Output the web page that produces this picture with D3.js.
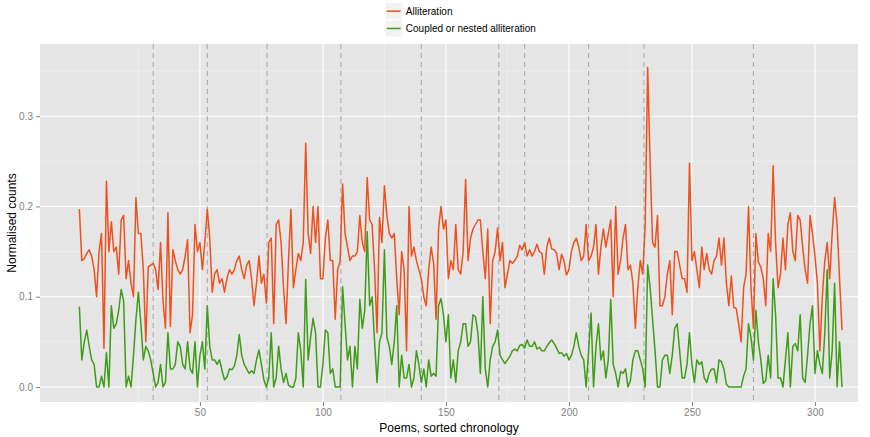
<!DOCTYPE html>
<html>
<head>
<meta charset="utf-8">
<script src="https://cdn.jsdelivr.net/npm/d3@7"></script>
<style>
  html, body { margin: 0; padding: 0; background: #ffffff; }
  svg { display: block; font-family: "Liberation Sans", Arial, sans-serif; }
</style>
</head>
<body>
<svg id="chart" width="870" height="437"></svg>
<script>
// Normalised alliteration counts per poem, poems in chronological order
const alliteration = [
  0.197,0.140,0.142,0.148,0.152,0.145,0.130,0.100,0.150,0.170,
  0.043,0.228,0.150,0.183,0.150,0.155,0.125,0.185,0.190,0.120,
  0.140,0.115,0.100,0.210,0.170,0.170,0.130,0.050,0.133,0.135,
  0.137,0.130,0.108,0.160,0.095,0.065,0.193,0.067,0.152,0.140,
  0.130,0.125,0.130,0.145,0.163,0.060,0.080,0.180,0.150,0.160,
  0.130,0.160,0.197,0.165,0.105,0.125,0.130,0.115,0.120,0.105,
  0.120,0.130,0.125,0.130,0.140,0.145,0.130,0.120,0.135,0.140,
  0.120,0.090,0.115,0.145,0.115,0.125,0.093,0.160,0.165,0.070,
  0.180,0.185,0.160,0.110,0.070,0.140,0.197,0.110,0.130,0.148,
  0.140,0.160,0.270,0.170,0.148,0.200,0.160,0.200,0.120,0.120,
  0.165,0.185,0.140,0.140,0.075,0.130,0.140,0.225,0.170,0.155,
  0.140,0.145,0.145,0.150,0.190,0.160,0.150,0.232,0.185,0.180,
  0.130,0.060,0.188,0.160,0.223,0.190,0.170,0.165,0.170,0.120,
  0.080,0.150,0.130,0.040,0.200,0.145,0.155,0.140,0.130,0.120,
  0.100,0.090,0.130,0.155,0.137,0.075,0.175,0.200,0.175,0.185,
  0.120,0.140,0.130,0.180,0.130,0.125,0.150,0.230,0.140,0.165,
  0.175,0.180,0.185,0.185,0.150,0.120,0.175,0.070,0.140,0.150,
  0.176,0.140,0.160,0.110,0.125,0.140,0.137,0.140,0.145,0.157,
  0.152,0.160,0.145,0.152,0.145,0.150,0.158,0.150,0.148,0.125,
  0.155,0.165,0.153,0.152,0.148,0.130,0.147,0.140,0.124,0.130,
  0.150,0.160,0.165,0.155,0.140,0.145,0.180,0.140,0.145,0.155,
  0.180,0.125,0.155,0.175,0.155,0.170,0.185,0.100,0.200,0.125,
  0.140,0.165,0.180,0.130,0.135,0.115,0.065,0.110,0.140,0.125,
  0.180,0.354,0.250,0.160,0.155,0.190,0.090,0.090,0.100,0.125,
  0.140,0.080,0.150,0.150,0.135,0.120,0.120,0.105,0.248,0.140,
  0.150,0.130,0.110,0.155,0.130,0.148,0.130,0.125,0.140,0.145,
  0.165,0.135,0.165,0.115,0.090,0.123,0.088,0.087,0.070,0.050,
  0.110,0.125,0.200,0.110,0.065,0.170,0.138,0.133,0.120,0.090,
  0.170,0.150,0.245,0.160,0.110,0.125,0.165,0.130,0.180,0.193,
  0.150,0.140,0.190,0.185,0.155,0.130,0.115,0.190,0.170,0.145,
  0.115,0.040,0.100,0.140,0.160,0.120,0.170,0.210,0.180,0.120,0.063
];

// Normalised counts of coupled or nested alliteration per poem
const coupled = [
  0.089,0.030,0.050,0.063,0.045,0.030,0.025,0.000,0.000,0.012,
  0.000,0.038,0.000,0.090,0.065,0.070,0.085,0.108,0.095,0.000,
  0.012,0.000,0.035,0.075,0.105,0.070,0.030,0.045,0.040,0.030,
  0.015,0.000,0.005,0.025,0.000,0.005,0.060,0.020,0.020,0.025,
  0.050,0.045,0.025,0.020,0.050,0.020,0.015,0.050,0.000,0.035,
  0.050,0.020,0.090,0.045,0.030,0.030,0.025,0.030,0.018,0.008,
  0.011,0.020,0.019,0.023,0.035,0.058,0.035,0.025,0.020,0.015,
  0.018,0.015,0.030,0.041,0.025,0.008,0.000,0.010,0.060,0.000,
  0.010,0.045,0.020,0.005,0.015,0.002,0.000,0.000,0.010,0.060,
  0.040,0.000,0.119,0.030,0.055,0.076,0.060,0.000,0.000,0.025,
  0.063,0.060,0.015,0.020,0.000,0.000,0.000,0.111,0.070,0.030,
  0.045,0.000,0.045,0.020,0.097,0.065,0.085,0.172,0.090,0.100,
  0.050,0.005,0.050,0.060,0.152,0.055,0.045,0.025,0.050,0.090,
  0.000,0.035,0.010,0.010,0.025,0.000,0.010,0.040,0.025,0.005,
  0.020,0.000,0.030,0.012,0.015,0.012,0.090,0.098,0.080,0.050,
  0.080,0.010,0.030,0.005,0.040,0.050,0.070,0.070,0.045,0.050,
  0.080,0.078,0.060,0.015,0.100,0.020,0.000,0.030,0.045,0.050,
  0.063,0.035,0.030,0.026,0.030,0.034,0.040,0.042,0.040,0.046,
  0.047,0.043,0.052,0.045,0.045,0.050,0.042,0.044,0.040,0.040,
  0.045,0.049,0.052,0.048,0.043,0.037,0.038,0.034,0.037,0.030,
  0.035,0.045,0.060,0.045,0.035,0.030,0.000,0.040,0.082,0.000,
  0.045,0.070,0.030,0.040,0.010,0.030,0.097,0.025,0.015,0.000,
  0.017,0.015,0.020,0.000,0.007,0.030,0.040,0.040,0.030,0.020,
  0.000,0.135,0.110,0.075,0.040,0.000,0.000,0.030,0.035,0.035,
  0.015,0.035,0.065,0.070,0.040,0.010,0.010,0.025,0.060,0.025,
  0.005,0.030,0.025,0.028,0.010,0.005,0.015,0.020,0.020,0.005,
  0.030,0.028,0.020,0.003,0.000,0.000,0.000,0.000,0.000,0.000,
  0.012,0.020,0.070,0.055,0.030,0.085,0.050,0.030,0.004,0.007,
  0.035,0.010,0.120,0.080,0.010,0.010,0.000,0.030,0.060,0.000,
  0.045,0.048,0.040,0.080,0.010,0.005,0.035,0.070,0.090,0.015,
  0.040,0.025,0.015,0.060,0.130,0.010,0.040,0.115,0.000,0.050,0.000
];

// Poem numbers (1-based position in the chronology)
const poems = d3.range(1, alliteration.length + 1);

// Period boundaries marked with dashed rules
const periodBreaks = [31, 53, 77.3, 107.3, 140, 171.5, 182, 208, 230.5, 275];

// Axis ticks
const xTicks = [50, 100, 150, 200, 250, 300];
const xMinorTicks = [25, 75, 125, 175, 225, 275];
const yTicks = [0, 0.1, 0.2, 0.3];
const yMinorTicks = [0.05, 0.15, 0.25, 0.35];

const seriesNames = ["Alliteration", "Coupled or nested alliteration"];
const seriesColors = ["#F0501E", "#3F9C17"];

const svg = d3.select("#chart");
const W = 870, H = 437;
const panel = { left: 40, right: 858, top: 44, bottom: 402 };

svg.append("rect").attr("width", W).attr("height", H).attr("fill", "#ffffff");

const x = d3.scaleLinear().domain([-15, 317.5]).range([panel.left, panel.right]);
const y = d3.scaleLinear().domain([-0.01667, 0.38]).range([panel.bottom, panel.top]);

// Panel background
svg.append("rect")
  .attr("x", panel.left).attr("y", panel.top)
  .attr("width", panel.right - panel.left)
  .attr("height", panel.bottom - panel.top)
  .attr("fill", "#E5E5E5");

const grid = svg.append("g");
// Minor grid
grid.selectAll(".xminor").data(xMinorTicks).join("line")
  .attr("x1", d => x(d)).attr("x2", d => x(d))
  .attr("y1", panel.top).attr("y2", panel.bottom)
  .attr("stroke", "#F2F2F2").attr("stroke-width", 0.6);
grid.selectAll(".yminor").data(yMinorTicks.filter(v => y(v) > panel.top)).join("line")
  .attr("x1", panel.left).attr("x2", panel.right)
  .attr("y1", d => y(d)).attr("y2", d => y(d))
  .attr("stroke", "#F2F2F2").attr("stroke-width", 0.6);
// Major grid
grid.selectAll(".xmajor").data(xTicks).join("line")
  .attr("x1", d => x(d)).attr("x2", d => x(d))
  .attr("y1", panel.top).attr("y2", panel.bottom)
  .attr("stroke", "#FFFFFF").attr("stroke-width", 1.1);
grid.selectAll(".ymajor").data(yTicks).join("line")
  .attr("x1", panel.left).attr("x2", panel.right)
  .attr("y1", d => y(d)).attr("y2", d => y(d))
  .attr("stroke", "#FFFFFF").attr("stroke-width", 1.1);

// Dashed period boundaries
svg.append("g").selectAll("line").data(periodBreaks).join("line")
  .attr("x1", d => x(d)).attr("x2", d => x(d))
  .attr("y1", panel.top).attr("y2", panel.bottom)
  .attr("stroke", "#A6A6A6").attr("stroke-width", 1)
  .attr("stroke-dasharray", "5,4");

// Series lines
const line = d3.line().x((d, i) => x(poems[i])).y(d => y(d));
[alliteration, coupled].forEach((vals, k) => {
  svg.append("path")
    .datum(vals)
    .attr("d", line)
    .attr("fill", "none")
    .attr("stroke", seriesColors[k])
    .attr("stroke-width", 1.5)
    .attr("stroke-linejoin", "round");
});

// Axes
const xAxis = d3.axisBottom(x).tickValues(xTicks).tickSize(4).tickPadding(3).tickFormat(d3.format("d"));
const gx = svg.append("g").attr("transform", `translate(0,${panel.bottom})`).call(xAxis);
gx.select(".domain").remove();
gx.selectAll(".tick line").attr("stroke", "#7F7F7F");
gx.selectAll(".tick text").attr("fill", "#7F7F7F").style("font-size", "10px")
  .style("font-family", "'Liberation Sans', Arial, sans-serif");

const yAxis = d3.axisLeft(y).tickValues(yTicks).tickSize(4).tickPadding(3).tickFormat(d3.format(".1f"));
const gy = svg.append("g").attr("transform", `translate(${panel.left},0)`).call(yAxis);
gy.select(".domain").remove();
gy.selectAll(".tick line").attr("stroke", "#7F7F7F");
gy.selectAll(".tick text").attr("fill", "#7F7F7F").style("font-size", "10px")
  .style("font-family", "'Liberation Sans', Arial, sans-serif");

// Axis titles
svg.append("text")
  .attr("x", (panel.left + panel.right) / 2).attr("y", 432)
  .attr("text-anchor", "middle")
  .style("font-size", "12px").attr("fill", "#000")
  .text("Poems, sorted chronology");

svg.append("text")
  .attr("transform", `translate(16,${(panel.top + panel.bottom) / 2}) rotate(-90)`)
  .attr("text-anchor", "middle")
  .style("font-size", "12px").attr("fill", "#000")
  .text("Normalised counts");

// Legend
const legend = svg.append("g").attr("transform", "translate(385,2.5)");
const keySize = 17.3;
seriesNames.forEach((name, k) => {
  const g = legend.append("g").attr("transform", `translate(0,${k * keySize})`);
  g.append("rect").attr("width", keySize).attr("height", keySize)
    .attr("fill", "#F2F2F2").attr("stroke", "#FFFFFF").attr("stroke-width", 1);
  g.append("line")
    .attr("x1", 1.7).attr("x2", keySize - 1.7)
    .attr("y1", keySize / 2).attr("y2", keySize / 2)
    .attr("stroke", seriesColors[k]).attr("stroke-width", 1.5);
  g.append("text")
    .attr("x", keySize + 3.5).attr("y", keySize / 2 + 3.5)
    .style("font-size", "10px").attr("fill", "#000")
    .text(name);
});
</script>
</body>
</html>
